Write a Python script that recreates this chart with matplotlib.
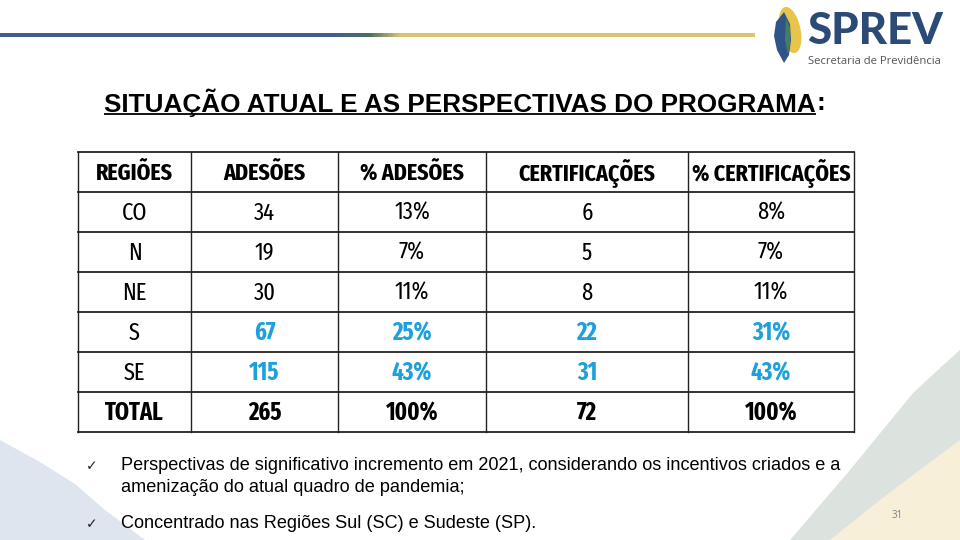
import matplotlib
matplotlib.use("Agg")
import matplotlib.pyplot as plt
import numpy as np
from matplotlib.colors import LinearSegmentedColormap
from matplotlib.patches import Polygon, Ellipse
from matplotlib import font_manager as fm
import logging
logging.getLogger("matplotlib.font_manager").setLevel(logging.ERROR)

# ---------------- data ----------------
headers = ["REGIÕES", "ADESÕES", "% ADESÕES", "CERTIFICAÇÕES", "% CERTIFICAÇÕES"]
regions = ["CO", "N", "NE", "S", "SE", "TOTAL"]
adesoes = [34, 19, 30, 67, 115, 265]
pct_adesoes = [13, 7, 11, 25, 43, 100]
certificacoes = [6, 5, 8, 22, 31, 72]
pct_certificacoes = [8, 7, 11, 31, 43, 100]
highlight_rows = ["S", "SE"]
bold_rows = ["TOTAL"]

title = "SITUAÇÃO ATUAL E AS PERSPECTIVAS DO PROGRAMA"
bullets = [
    ["Perspectivas de significativo incremento em 2021, considerando os incentivos criados e a",
     "amenização do atual quadro de pandemia;"],
    ["Concentrado nas Regiões Sul (SC) e Sudeste (SP)."],
]
page_number = "31"

# ---------------- fonts ----------------
installed = {f.name for f in fm.fontManager.ttflist}
def pick(*cands):
    fam = [c for c in cands if c in installed]
    return fam + ["DejaVu Sans"]

NARROW = pick("Fira Sans Extra Condensed", "Fira Sans Condensed", "Carlito", "Roboto Condensed")
ARIAL = pick("Liberation Sans", "Arimo")
LOGO = pick("Lato", "Roboto")
SMALL = pick("Open Sans", "Roboto")

# ---------------- figure ----------------
W, H = 960, 540
fig = plt.figure(figsize=(9.6, 5.4), dpi=100)
ax = fig.add_axes([0, 0, 1, 1])
ax.set_xlim(0, W)
ax.set_ylim(H, 0)
ax.axis("off")
fig.canvas.draw()
renderer = fig.canvas.get_renderer()

def text_width(t):
    return t.get_window_extent(renderer=renderer).width

def fit(t, target):
    w = text_width(t)
    if w > 0:
        t.set_fontsize(t.get_fontsize() * target / w)
    return t

def fitted_size(s, target, **kw):
    p = ax.text(0, 0, s, fontsize=18, **kw)
    fit(p, target)
    fs = p.get_fontsize()
    p.remove()
    return fs

# ---------------- background shapes ----------------
ax.add_patch(Polygon([(0, 440), (40, 462), (75, 484), (105, 510), (145, 540), (0, 540)],
                     closed=True, facecolor="#dfe5ee", edgecolor="none", zorder=0))
ax.add_patch(Polygon([(790, 540), (850, 470), (913, 393), (940, 368), (960, 350), (960, 540)],
                     closed=True, facecolor="#dce3df", edgecolor="none", zorder=0))
ax.add_patch(Polygon([(830, 540), (880, 500), (925, 466), (960, 440), (960, 540)],
                     closed=True, facecolor="#f8efd9", edgecolor="none", zorder=0))

# ---------------- top gradient line ----------------
cmap = LinearSegmentedColormap.from_list(
    "hdr", [(0, "#3f6189"), (330 / 755, "#3f6189"), (370 / 755, "#4d6f64"),
            (400 / 755, "#dcc470"), (1, "#dcc470")])
grad = np.linspace(0, 1, 400).reshape(1, -1)
ax.imshow(grad, cmap=cmap, aspect="auto", extent=[0, 755, 37.5, 33.5], zorder=1)

# ---------------- logo ----------------
ax.add_patch(Ellipse((790, 30), 21, 47, angle=-12, facecolor="#e8c44a", edgecolor="none", zorder=2))
ax.add_patch(Polygon([(784, 12), (776, 22), (774, 36), (777, 50), (784, 63), (789, 55),
                      (791, 40), (790, 24)], closed=True, facecolor="#2f5488",
                     edgecolor="none", zorder=3))
ax.add_patch(Polygon([(786, 18), (790, 28), (790, 44), (788, 55), (785, 40)], closed=True,
                     facecolor="#4a8a5a", edgecolor="none", zorder=3, alpha=0.8))
t = ax.text(807, 31, "SPREV", ha="left", va="center", fontsize=26, fontweight="black",
            color="#2b4a75", family=LOGO, zorder=3)
fit(t, 136)
t = ax.text(808, 61, "Secretaria de Previdência", ha="left", va="center", fontsize=8,
            color="#555555", family=SMALL, zorder=3)
fit(t, 134)

# ---------------- title ----------------
tt = ax.text(104, 103, title, ha="left", va="center", fontsize=13, color="black",
             fontweight="bold", family=ARIAL, zorder=3)
fit(tt, 714)
bb = tt.get_window_extent(renderer=renderer)
x1 = bb.x1
ax.text(x1 + 1, 103, ":", ha="left", va="center", fontsize=tt.get_fontsize(),
        color="black", fontweight="bold", family=ARIAL, zorder=3)
ax.plot([104, x1], [114, 114], color="black", lw=1.3, solid_capstyle="butt", zorder=3)

# ---------------- table ----------------
col_edges = [78, 191, 338, 486, 688, 854]
top = 152
row_h = 40
n_rows = len(regions) + 1
row_edges = [top + i * row_h for i in range(n_rows + 1)]

for y in row_edges:
    ax.plot([col_edges[0], col_edges[-1]], [y, y], color="#222222", lw=1.3, zorder=4,
            solid_capstyle="projecting")
for x in col_edges:
    ax.plot([x, x], [row_edges[0], row_edges[-1]], color="#222222", lw=1.0, zorder=4)

centers_x = [(col_edges[i] + col_edges[i + 1]) / 2 for i in range(len(col_edges) - 1)]
centers_y = [(row_edges[i] + row_edges[i + 1]) / 2 for i in range(n_rows)]

hdr_fs = fitted_size("CERTIFICAÇÕES", 137, fontweight="bold", family=NARROW)
cell_fs = fitted_size("34", 21, family=NARROW)

for j, h in enumerate(headers):
    ax.text(centers_x[j], centers_y[0] + 1, h, ha="center", va="center", fontsize=hdr_fs,
            fontweight="bold", family=NARROW, color="black", zorder=5)

for i, r in enumerate(regions):
    vals = [r, str(adesoes[i]), f"{pct_adesoes[i]}%", str(certificacoes[i]),
            f"{pct_certificacoes[i]}%"]
    for j, v in enumerate(vals):
        hl = r in highlight_rows and j > 0
        bold = r in bold_rows or hl
        ax.text(centers_x[j], centers_y[i + 1] + 1, v, ha="center", va="center",
                fontsize=cell_fs, fontweight="bold" if bold else "normal",
                family=NARROW, color="#1da1dc" if hl else "black", zorder=5)

# ---------------- bullets ----------------
bul_fs = fitted_size(bullets[0][0], 721, family=ARIAL)
bullet_y = [[466, 487], [524]]
for lines, ys in zip(bullets, bullet_y):
    ax.text(86, ys[0], "✓", ha="left", va="center", fontsize=10, color="#222222",
            family=["DejaVu Sans"], zorder=5)
    for ln, y in zip(lines, ys):
        ax.text(121, y, ln, ha="left", va="center", fontsize=bul_fs, color="black",
                family=ARIAL, zorder=5)

ax.text(897, 515, page_number, ha="center", va="center", fontsize=7, color="#7f7f7f",
        family=SMALL, zorder=5)

fig.savefig("out.png", dpi=100)
